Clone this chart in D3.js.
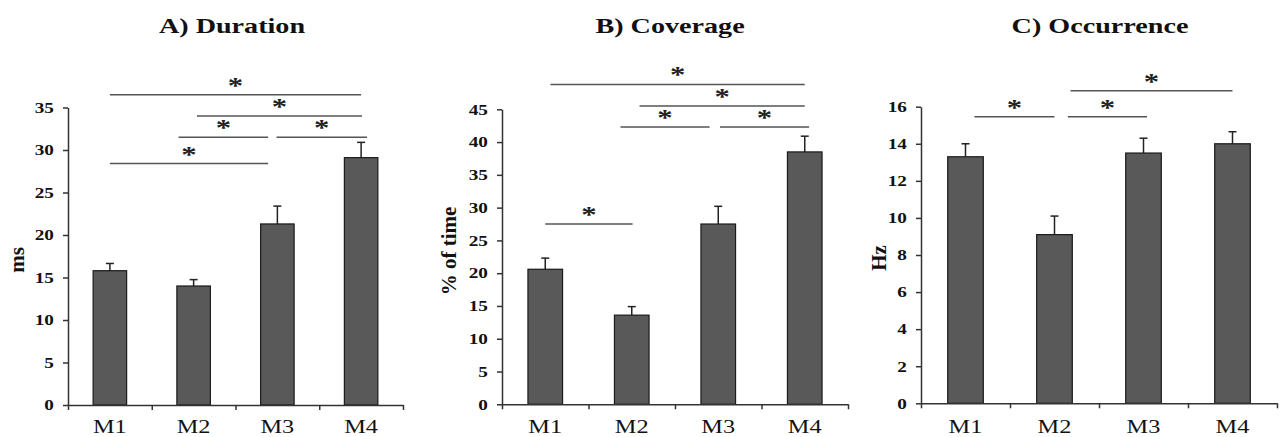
<!DOCTYPE html>
<html>
<head>
<meta charset="utf-8">
<script src="https://cdn.jsdelivr.net/npm/d3@7"></script>
<style>
  body { margin: 0; background: #fff; }
  svg { display: block; }
</style>
</head>
<body>
<div id="chart"></div>
<script>
// categories shared by all three panels
var categories = ["M1", "M2", "M3", "M4"];

// A) Duration
var durationMeans = [15.8, 14.0, 21.3, 29.1];
var durationErrors = [0.85, 0.75, 2.1, 1.8];
var durationTicks = [0, 5, 10, 15, 20, 25, 30, 35];
// [from index, to index, level in data units]
var durationSig = [[0, 3, 36.5], [1.04, 3.01, 34], [0.82, 1.89, 31.5], [1.99, 3.07, 31.5], [0, 1.89, 28.4]];

// B) Coverage
var coverageMeans = [20.6, 13.6, 27.5, 38.5];
var coverageErrors = [1.7, 1.3, 2.7, 2.4];
var coverageTicks = [0, 5, 10, 15, 20, 25, 30, 35, 40, 45];
var coverageSig = [[0.06, 3.0, 48.8], [1.09, 3.0, 45.5], [0.87, 1.9, 42.3], [2.02, 3.05, 42.3], [0, 1.01, 27.5]];

// C) Occurrence
var occurrenceMeans = [13.3, 9.1, 13.5, 14.0];
var occurrenceErrors = [0.7, 1.0, 0.8, 0.65];
var occurrenceTicks = [0, 2, 4, 6, 8, 10, 12, 14, 16];
var occurrenceSig = [[0.1, 1.0, 15.46], [1.15, 2.04, 15.46], [1.18, 3.0, 16.86]];

var FONT = "'Liberation Serif', 'Times New Roman', serif";
var STRETCH = 1.28; // source image is stretched horizontally

var svg = d3.select("#chart").append("svg")
	.attr("width", 1282)
	.attr("height", 437);

svg.append("rect").attr("width", 1282).attr("height", 437).attr("fill", "#fff");

drawPanel({
	title: "A) Duration", yLabel: "ms",
	means: durationMeans, errors: durationErrors, ticks: durationTicks, sig: durationSig,
	left: 68, right: 403, top: 107.5, bottom: 405,
	titleX: 232, labelX: 24, labelY: 260
});
drawPanel({
	title: "B) Coverage", yLabel: "% of time",
	means: coverageMeans, errors: coverageErrors, ticks: coverageTicks, sig: coverageSig,
	left: 502, right: 848, top: 109.3, bottom: 404.3,
	titleX: 670, labelX: 456, labelY: 251
});
drawPanel({
	title: "C) Occurrence", yLabel: "Hz",
	means: occurrenceMeans, errors: occurrenceErrors, ticks: occurrenceTicks, sig: occurrenceSig,
	left: 921, right: 1277, top: 106.7, bottom: 403.3,
	titleX: 1100, labelX: 886, labelY: 258
});

function drawPanel(p) {
	var g = svg.append("g");
	var yMax = p.ticks[p.ticks.length - 1];

	var x = d3.scaleBand().domain(categories).range([p.left, p.right]).padding(0);
	var y = d3.scaleLinear().domain([0, yMax]).range([p.bottom, p.top]);
	var bw = x.bandwidth() * 0.4;
	// category index -> pixel (bar centres)
	var xi = d3.scaleLinear().domain([0, 3])
		.range([x(categories[0]) + x.bandwidth() / 2, x(categories[3]) + x.bandwidth() / 2]);
	// boundaries between categories for x ticks
	var xb = d3.scaleLinear().domain([0, 4]).range([p.left, p.right]);

	//title
	g.append("text")
		.attr("transform", "translate(" + p.titleX + ",33) scale(" + STRETCH + ",1)")
		.attr("text-anchor", "middle")
		.style("font-family", FONT)
		.style("font-weight", "bold")
		.style("font-size", "22px")
		.attr("fill", "#111")
		.text(p.title);

	//bars
	var data = categories.map(function (c, i) {
		return { cat: c, mean: p.means[i], err: p.errors[i] };
	});

	//error bars (drawn first so the bar covers the lower half)
	g.selectAll(".err").data(data).enter().append("line")
		.attr("x1", function (d) { return x(d.cat) + x.bandwidth() / 2; })
		.attr("x2", function (d) { return x(d.cat) + x.bandwidth() / 2; })
		.attr("y1", function (d) { return y(d.mean); })
		.attr("y2", function (d) { return y(d.mean + d.err); })
		.attr("stroke", "#222").attr("stroke-width", 1.5);
	g.selectAll(".cap").data(data).enter().append("line")
		.attr("x1", function (d) { return x(d.cat) + x.bandwidth() / 2 - 4; })
		.attr("x2", function (d) { return x(d.cat) + x.bandwidth() / 2 + 4; })
		.attr("y1", function (d) { return y(d.mean + d.err); })
		.attr("y2", function (d) { return y(d.mean + d.err); })
		.attr("stroke", "#222").attr("stroke-width", 1.5);

	g.selectAll(".bar").data(data).enter().append("rect")
		.attr("x", function (d) { return x(d.cat) + (x.bandwidth() - bw) / 2; })
		.attr("y", function (d) { return y(d.mean); })
		.attr("width", bw)
		.attr("height", function (d) { return y(0) - y(d.mean); })
		.attr("fill", "#595959")
		.attr("stroke", "#1a1a1a")
		.attr("stroke-width", 1.2);

	//y axis
	var yAxis = d3.axisLeft(y).tickValues(p.ticks).tickSize(5).tickSizeOuter(0).tickPadding(6);
	var ya = g.append("g")
		.attr("transform", "translate(" + p.left + ",0)")
		.call(yAxis);
	ya.select(".domain").attr("stroke", "#333").attr("stroke-width", 1.5);
	ya.selectAll(".tick line").attr("stroke", "#333").attr("stroke-width", 1.5);
	ya.selectAll(".tick text")
		.attr("transform", "scale(" + STRETCH + ",1)")
		.style("font-family", FONT)
		.style("font-weight", "bold")
		.style("font-size", "15px")
		.attr("fill", "#111");

	//x axis: ticks at category boundaries
	var xAxis = d3.axisBottom(xb).tickValues([0, 1, 2, 3, 4]).tickSize(5).tickSizeOuter(0).tickFormat("");
	var xa = g.append("g")
		.attr("transform", "translate(0," + p.bottom + ")")
		.call(xAxis);
	xa.select(".domain").attr("stroke", "#333").attr("stroke-width", 1.5);
	xa.selectAll(".tick line").attr("stroke", "#333").attr("stroke-width", 1.5);

	//category labels
	g.selectAll(".cat").data(categories).enter().append("text")
		.attr("transform", function (d) {
			return "translate(" + (x(d) + x.bandwidth() / 2) + ",433) scale(" + STRETCH + ",1)";
		})
		.attr("text-anchor", "middle")
		.style("font-family", FONT)
		.style("font-size", "19px")
		.attr("fill", "#111")
		.text(function (d) { return d; });

	//y label
	g.append("text")
		.attr("transform", "translate(" + p.labelX + "," + p.labelY + ") rotate(-90)")
		.attr("text-anchor", "middle")
		.style("font-family", FONT)
		.style("font-weight", "bold")
		.style("font-size", "21px")
		.attr("fill", "#111")
		.text(p.yLabel);

	//significance lines and stars
	g.selectAll(".sig").data(p.sig).enter().append("line")
		.attr("x1", function (d) { return xi(d[0]); })
		.attr("x2", function (d) { return xi(d[1]); })
		.attr("y1", function (d) { return y(d[2]); })
		.attr("y2", function (d) { return y(d[2]); })
		.attr("stroke", "#555")
		.attr("stroke-width", 1.5);
	g.selectAll(".star").data(p.sig).enter().append("text")
		.attr("transform", function (d) {
			return "translate(" + xi((d[0] + d[1]) / 2) + "," + (y(d[2]) - 2) + ") scale(" + STRETCH + ",1)";
		})
		.attr("text-anchor", "middle")
		.style("font-family", FONT)
		.style("font-weight", "bold")
		.style("font-size", "24px")
		.attr("fill", "#222")
		.text("*");
}
</script>
</body>
</html>
